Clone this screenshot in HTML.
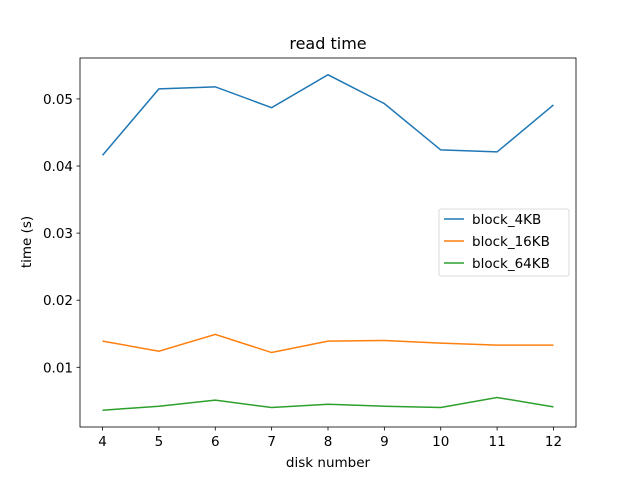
<!DOCTYPE html>
<html><head><meta charset="utf-8"><style>
html,body{margin:0;padding:0;background:#fff;}
svg{display:block;font-family:"DejaVu Sans","Liberation Sans",sans-serif;}
</style></head><body>
<svg id="chart" width="640" height="480" viewBox="0 0 640 480">
<rect width="640" height="480" fill="#fff"/>
<text x="328" y="49" text-anchor="middle" font-size="16">read time</text>
<g id="axes"></g>
<g id="series"></g>
<rect x="80" y="58" width="496" height="369" fill="none" stroke="#000" stroke-width="0.8"/>
<text x="328" y="467" text-anchor="middle" font-size="13.5">disk number</text>
<text x="0" y="0" transform="translate(31,242) rotate(-90)" text-anchor="middle" font-size="13.5">time (s)</text>
<g id="legend"></g>
</svg>
<script>
const categories=[4,5,6,7,8,9,10,11,12];
const block4=[0.0416,0.0515,0.0518,0.0487,0.0536,0.0493,0.0424,0.0421,0.0491];
const block16=[0.0139,0.0124,0.0149,0.0122,0.0139,0.0140,0.0136,0.0133,0.0133];
const block64=[0.0036,0.0042,0.0051,0.0040,0.0045,0.0042,0.0040,0.0055,0.0041];
const seriesNames=["block_4KB","block_16KB","block_64KB"];
const yTicks=[0.01,0.02,0.03,0.04,0.05];
const yTickLabels=["0.01","0.02","0.03","0.04","0.05"];
const xTicks=[4,5,6,7,8,9,10,11,12];
const L=80,R=576,T=58,B=427;
const x0=3.6,x1=12.4,y0=0.0011,y1=0.0561;
const sx=v=>L+(v-x0)/(x1-x0)*(R-L);
const sy=v=>B-(v-y0)/(y1-y0)*(B-T);
const NS="http://www.w3.org/2000/svg";
function mk(tag,attrs,parent){const e=document.createElementNS(NS,tag);for(const k in attrs)e.setAttribute(k,attrs[k]);parent.appendChild(e);return e;}
const axes=document.getElementById('axes');
xTicks.forEach(t=>{
  const l=mk('line',{x1:sx(t),x2:sx(t),y1:B,y2:B+3.5,stroke:'#000','stroke-width':0.8},axes);
  
  
  const tx=mk('text',{x:sx(t),y:B+19,'text-anchor':'middle','font-size':13.5},axes);
  tx.textContent=t;
  
  
});
yTicks.forEach((t,i)=>{
  const l=mk('line',{x1:L-3.5,x2:L,y1:sy(t),y2:sy(t),stroke:'#000','stroke-width':0.8},axes);
  
  
  const tx=mk('text',{x:L-7,y:sy(t)+5,'text-anchor':'end','font-size':13.5},axes);
  tx.textContent=yTickLabels[i];
  
  
});
const colors=["#1f77b4","#ff7f0e","#2ca02c"];
const allSeries=[block4,block16,block64];
const sg=document.getElementById('series');
allSeries.forEach((s,i)=>{
  const p=mk('polyline',{points:s.map((v,j)=>sx(categories[j])+','+sy(v)).join(' '),fill:'none',stroke:colors[i],'stroke-width':1.5},sg);
  
  
});
const lg=document.getElementById('legend');
const box=mk('rect',{x:439,y:209,width:130,height:67,rx:2,fill:'#fff',stroke:'#ccc','stroke-width':0.8,opacity:0.9},lg);


seriesNames.forEach((n,i)=>{
  const y=219+i*22;
  const l=mk('line',{x1:444,x2:464,y1:y,y2:y,stroke:colors[i],'stroke-width':1.5},lg);
  
  
  const t=mk('text',{x:472,y:y+5,'font-size':13.5},lg);
  t.textContent=n;
  
  
});
</script>
</body></html>
